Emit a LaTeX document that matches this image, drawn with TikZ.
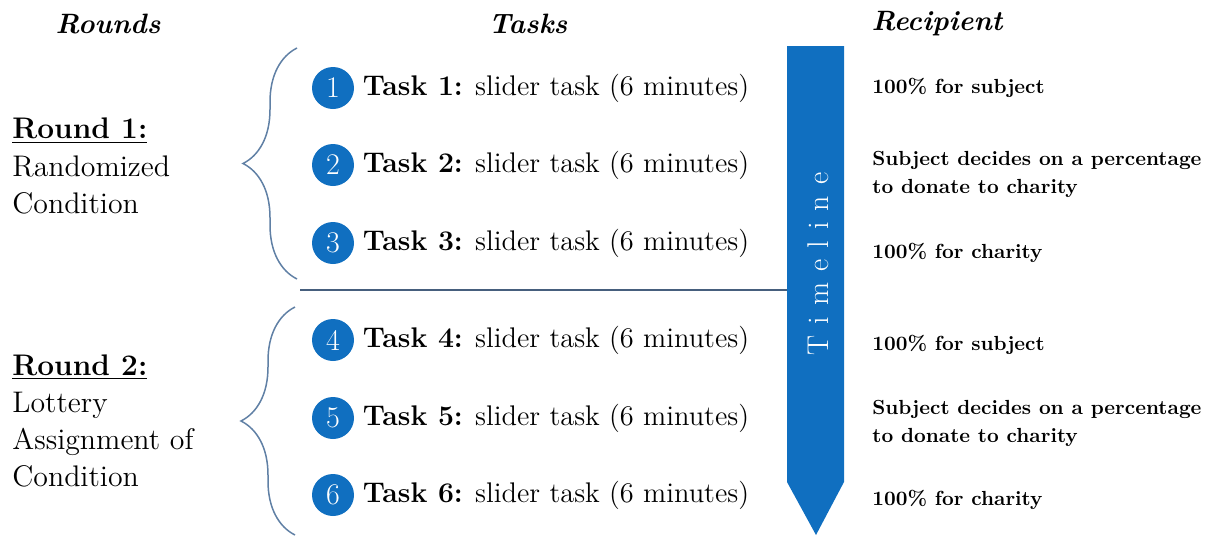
\documentclass[tikz,border=0pt]{standalone}
\usepackage{fontspec}
\newfontfamily\tlfont{Latin Modern Roman}[LetterSpace=37]
\usepackage{xcolor}
\usepackage{tikz}
\usetikzlibrary{positioning, decorations.pathreplacing}
\definecolor{tlblue}{RGB}{16,111,192}
\definecolor{bracecol}{RGB}{96,128,165}
\definecolor{sepcol}{RGB}{70,95,125}
\tikzset{
  head/.style={font=\fontsize{14}{18}\selectfont\bfseries\itshape},
  num/.style={circle, fill=tlblue, text=white, minimum size=21pt, inner sep=0pt,
              font=\fontsize{15}{18}\selectfont},
  task/.style={inner sep=0pt, anchor=west, font=\fontsize{14.2}{18}\selectfont},
  round/.style={inner sep=0pt, anchor=west, align=left,
                font=\fontsize{14.9}{18.6}\selectfont},
  recip/.style={inner sep=0pt, anchor=west, align=left,
                font=\fontsize{10.2}{14}\selectfont\bfseries},
  brc/.style={draw=bracecol, line width=0.75pt,
              decorate, decoration={brace, amplitude=27pt}},
  sep/.style={draw=sepcol, line width=0.75pt},
}

\begin{document}
\begin{tikzpicture}[x=0.5pt, y=-0.5pt]
  \useasboundingbox (0,0) rectangle (1212,536);

  %% === Column headings ===
  \node[head] (hrounds) at (108,24)  {Rounds};
  \node[head] (htasks)  at (528,24)  {Tasks};
  \node[head] (hrecip)  at (937,24)  {Recipient};

  %% === Rounds ===
  \node[round] (r1) at (12,166)
    {\underline{\textbf{Round 1:}}\\Randomized\\Condition};
  \node[round] (r2) at (12,421)
    {\underline{\textbf{Round 2:}}\\Lottery\\Assignment of\\Condition};

  %% === Braces ===
  \draw[brc] (297,279) -- (297,48);
  \draw[brc] (295,535) -- (295,307);

  %% === Tasks ===
  \node[num] (n1) at (333,88)  {1};
  \node[num] (n2) at (333,165) {2};
  \node[num] (n3) at (333,243) {3};
  \node[num] (n4) at (333,340) {4};
  \node[num] (n5) at (333,418) {5};
  \node[num] (n6) at (333,495) {6};
  \node[task, right=4pt of n1] (t1) {\textbf{Task 1:} slider task (6 minutes)};
  \node[task, right=4pt of n2] (t2) {\textbf{Task 2:} slider task (6 minutes)};
  \node[task, right=4pt of n3] (t3) {\textbf{Task 3:} slider task (6 minutes)};
  \node[task, right=4pt of n4] (t4) {\textbf{Task 4:} slider task (6 minutes)};
  \node[task, right=4pt of n5] (t5) {\textbf{Task 5:} slider task (6 minutes)};
  \node[task, right=4pt of n6] (t6) {\textbf{Task 6:} slider task (6 minutes)};

  %% === Timeline arrow ===
  \fill[tlblue] (787,46) -- (844,46) -- (844,482) -- (816,535) -- (787,482) -- cycle;
  \node[rotate=90, text=white, font=\fontsize{15}{18}\selectfont\tlfont]
    (tl) at (818,264) {Timeline};

  %% separator between the two rounds
  \coordinate (sepL) at (300,290);
  \coordinate (sepR) at (787,290);
  \draw[sep] (sepL) -- (sepR);

  %% === Recipients ===
  \node[recip] (p1) at (872,88)  {100\% for subject};
  \node[recip] (p2) at (872,174) {Subject decides on a percentage\\to donate to charity};
  \node[recip] (p3) at (872,253) {100\% for charity};
  \node[recip] (p4) at (872,345) {100\% for subject};
  \node[recip] (p5) at (872,423) {Subject decides on a percentage\\to donate to charity};
  \node[recip] (p6) at (872,500) {100\% for charity};
\end{tikzpicture}
\end{document}
